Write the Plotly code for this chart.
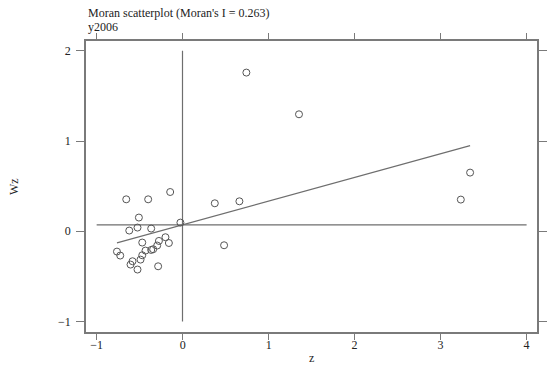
import numpy as np
import plotly.graph_objects as go

# Standardized variable (z) and its spatial lag (Wz)
z = [-0.656, -0.401, -0.145, -0.509, -0.621, -0.525, -0.366, -0.026, -0.470, -0.200,
     -0.160, -0.276, -0.296, -0.343, -0.366, -0.432, -0.470, -0.490, -0.764, -0.726,
     -0.583, -0.606, -0.525, -0.285, 0.374, 0.660, 0.741, 1.353, 0.482, 3.235, 3.343]
wz = [0.354, 0.354, 0.435, 0.152, 0.008, 0.041, 0.030, 0.096, -0.125, -0.066,
      -0.130, -0.107, -0.158, -0.199, -0.207, -0.214, -0.266, -0.314, -0.225, -0.269,
      -0.332, -0.369, -0.424, -0.388, 0.310, 0.332, 1.758, 1.296, -0.155, 0.351, 0.650]

x_ticks = [-1, 0, 1, 2, 3, 4]
y_ticks = [-1, 0, 1, 2]
title_text = "Moran scatterplot (Moran's I = 0.263)"
subtitle_text = "y2006"
x_title = "z"
y_title = "Wz"

za = np.array(z)
wa = np.array(wz)
slope, intercept = np.polyfit(za, wa, 1)
z_mean = float(za.mean())
wz_mean = float(wa.mean())

line_col = "#6e6e6e"
frame_col = "#7a7a7a"
fam = "Liberation Serif"
font = dict(family=fam, size=12, color="#222222")

W, H = 550, 368
L, R, T, B = 86, 13, 41, 36

fig = go.Figure()
fig.add_trace(go.Scatter(x=[min(x_ticks), max(x_ticks)], y=[wz_mean, wz_mean], mode="lines",
                         line=dict(color=line_col, width=1.2), hoverinfo="skip"))
fig.add_trace(go.Scatter(x=[z_mean, z_mean], y=[min(y_ticks), max(y_ticks)], mode="lines",
                         line=dict(color=line_col, width=1.2), hoverinfo="skip"))
zl = np.array([za.min(), za.max()])
fig.add_trace(go.Scatter(x=zl, y=intercept + slope * zl, mode="lines",
                         line=dict(color=line_col, width=1.2), hoverinfo="skip"))
fig.add_trace(go.Scatter(x=z, y=wz, mode="markers",
                         marker=dict(symbol="circle-open", size=7, color="#555555",
                                     line=dict(width=1, color="#555555"))))

pw = W - L - R
ph = H - T - B
annotations = [
    dict(text=title_text, xref="paper", yref="paper", x=0, y=1 + (T - 13.5) / ph,
         xanchor="left", yanchor="middle", showarrow=False, font=font),
    dict(text=subtitle_text, xref="paper", yref="paper", x=0, y=1 + (T - 27) / ph,
         xanchor="left", yanchor="middle", showarrow=False, font=font),
    dict(text=x_title, xref="paper", yref="paper", x=0.5, y=-(358 - (H - B)) / ph,
         xanchor="center", yanchor="middle", showarrow=False, font=font),
    dict(text=y_title, xref="paper", yref="paper", x=-(L - 14) / pw, y=(H - B - 187) / ph,
         xanchor="center", yanchor="middle", showarrow=False, font=font, textangle=-90),
]

fig.update_layout(
    width=W, height=H,
    margin=dict(l=L, r=R, t=T, b=B),
    plot_bgcolor="white", paper_bgcolor="white",
    showlegend=False,
    font=font,
    annotations=annotations,
)
fig.update_xaxes(range=[-1.124, 4.121], tickvals=x_ticks, showgrid=False, zeroline=False,
                 showline=True, linecolor=frame_col, linewidth=1.5, mirror="ticks",
                 ticks="outside", ticklen=6, tickcolor=frame_col, tickwidth=1,
                 automargin=False, tickfont=font, ticklabelstandoff=-5)
fig.update_yaxes(range=[-1.116, 2.108], tickvals=y_ticks, showgrid=False, zeroline=False,
                 showline=True, linecolor=frame_col, linewidth=1.5, mirror="ticks",
                 ticks="outside", ticklen=8, tickcolor=frame_col, tickwidth=1,
                 automargin=False, tickfont=font, ticklabelstandoff=3)

fig.write_html("out.html", config={"displayModeBar": False},
               post_script="document.body.style.margin='0';document.body.style.overflow='hidden';")
